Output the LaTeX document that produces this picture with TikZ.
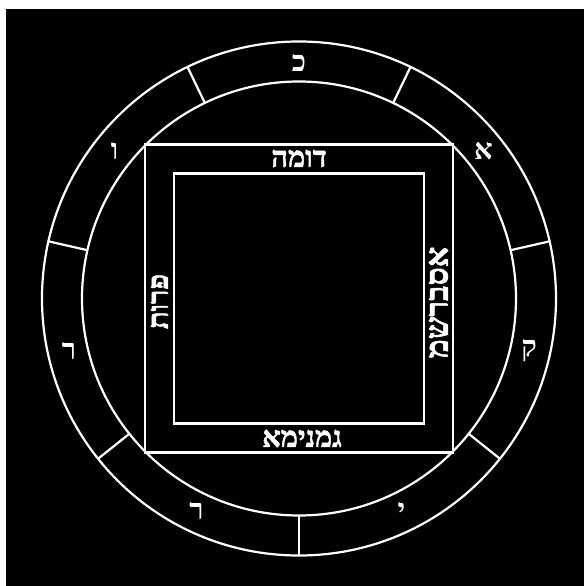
\documentclass[tikz,border=0pt]{standalone}
\usepackage{fontspec}
\newfontfamily\hebfont[Script=Hebrew]{Liberation Serif}
\newfontfamily\hebheavy[Script=Hebrew,FakeBold=1.6]{Liberation Serif Bold}
\TeXXeTstate=1
\usetikzlibrary{calc}
\begin{document}
\begin{tikzpicture}[x=1pt,y=1pt,
    rim/.style={white,line width=2.2pt},
    ringletter/.style={text=white,inner sep=0pt,font=\hebfont\bfseries\fontsize{29}{29}\selectfont},
    sidename/.style={text=white,inner sep=0pt,font=\hebheavy\fontsize{29}{29}\selectfont}]
	% background
	\useasboundingbox (-299,-287.5) rectangle (285,298.5);
	\fill[black] (-293,-287.5) rectangle (285,289.5);
	% two circles
	\coordinate (o) at (0,0);
	\draw[rim] (o) circle (257);
	\draw[rim] (o) circle (217);
	% seven cells of the ring
	\foreach \k in {0,...,6}
		\draw[rim] ({270+\k*360/7}:217) -- ({270+\k*360/7}:257);
	% letters of the ring
	\foreach \ch [count=\k from 0] in {י,ק,א,כ,ו,ר,ר}
		\node[ringletter] (l\k) at ({270+180/7+\k*360/7}:236) {\beginR\ch\endR};
	% squares
	\draw[rim] (-154,-154) rectangle (154,154);
	\draw[rim] (-125,-125) rectangle (125,125);
	% names on the four sides
	\node[sidename] (top) at (0,140) {\beginR דומה\endR};
	\node[sidename] (bottom) at (3,-140) {\beginR גמנימא\endR};
	\node[sidename,rotate=90,font=\hebheavy\fontsize{32}{32}\selectfont] (right) at (139.5,-4) {\beginR אסברשמ\endR};
	\node[sidename,rotate=90] (left) at (-139.5,-3) {\beginR פרות\endR};
\end{tikzpicture}
\end{document}
